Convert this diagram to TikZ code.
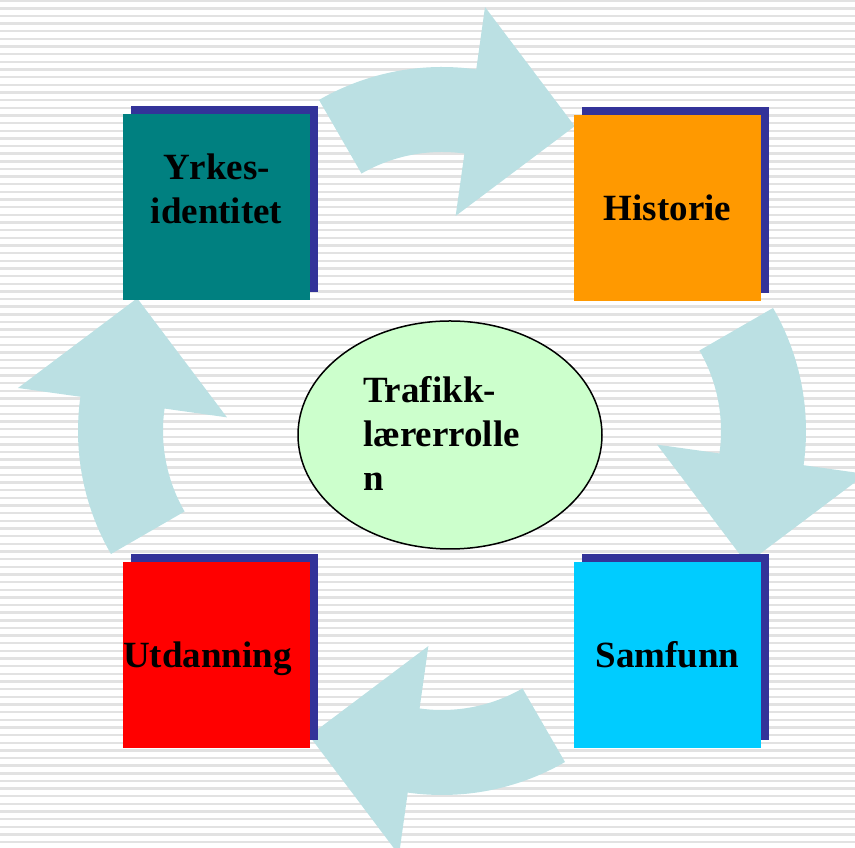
\documentclass[tikz,border=0pt]{standalone}
\usepackage{fontspec}
\setmainfont{Liberation Serif}
\usetikzlibrary{shapes.geometric, shadows}
\definecolor{pil}{HTML}{BBE0E3}
\definecolor{skygge}{HTML}{333399}
\definecolor{stripe}{HTML}{E2E2E2}
\definecolor{petrol}{HTML}{008080}
\definecolor{oransje}{HTML}{FF9900}
\definecolor{rod}{HTML}{FF0000}
\definecolor{himmel}{HTML}{00CCFF}
\definecolor{lysgronn}{HTML}{CCFFCC}

\begin{document}
\begin{tikzpicture}[x=1pt, y=1pt,
boks/.style = {% coloured squares
    minimum width=187pt, minimum height=186pt, inner sep=0pt,
    font=\bfseries\fontsize{37}{44}\selectfont, align=center,
    general shadow={fill=skygge, shadow xshift=8pt, shadow yshift=8pt},
              },
midt/.style = {% centre ellipse
    ellipse, draw, line width=1.5pt, fill=lysgronn,
    minimum width=304pt, minimum height=228pt, inner sep=0pt,
    font=\bfseries\fontsize{37}{44}\selectfont,
    text width=174pt, align=left,
              },
                        ]
\useasboundingbox (0,0) rectangle (855,848);
\clip (0,0) rectangle (855,848);
% stripes
\foreach \k in {0,...,111}{\draw[stripe, line width=2.4pt] (0,{847.3-7.65*\k}) -- (855,{847.3-7.65*\k});}
% arrows
\foreach \cx/\cy/\rot in {442/535/0, 560/417/-90, 442/299/180, 324/417/90}{
  \begin{scope}[shift={(\cx,\cy)}, rotate=\rot]
    \fill[pil] (120:246) arc[start angle=120, end angle=82, radius=246]
       -- (82:309) -- (54.6:229.2) -- (82:98) -- (82:161)
       arc[start angle=82, end angle=120, radius=161] -- cycle;
  \end{scope}
}
% boxes
\node[boks, fill=petrol, text depth=37pt] (yrkes) at (216.5,640.5) {Yrkes-\\identitet};
\node[boks, fill=oransje] (historie) at (667.5,640) {Historie};
\node[boks, fill=himmel] (samfunn) at (667.5,193) {Samfunn};
\node[boks, fill=rod, text depth=0pt, text width=187pt, align=left] (utdanning) at (216.5,193) {Utdanning};
% centre
\node[midt, text depth=92pt] (trafikk) at (450,413) {Trafikk-\\lærerrolle\\n};
\end{tikzpicture}
\end{document}
